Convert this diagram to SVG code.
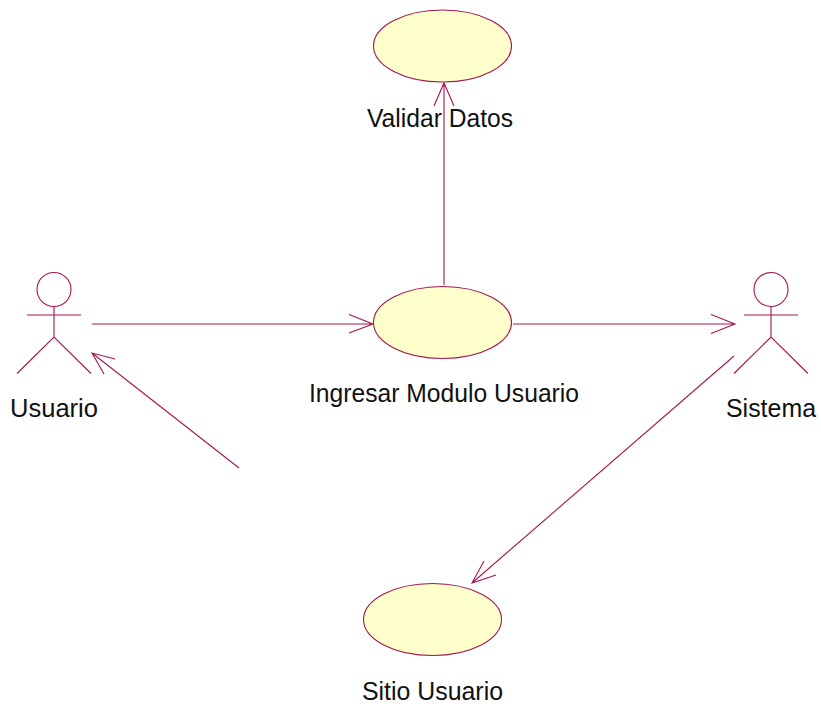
<svg xmlns="http://www.w3.org/2000/svg" width="821" height="706" viewBox="0 0 821 706">
<style>
.l{fill:none;stroke:#a5164f;stroke-width:1.1}
.u{fill:#ffffcc;stroke:#a5164f;stroke-width:1.1}
text{font-family:"Liberation Sans",Arial,sans-serif;font-size:25px;fill:#111;text-anchor:middle}
</style>
<rect width="821" height="706" fill="#fff"/>
<g id="connectors">
<path class="l" d="M92 324H373M349 314.5L373 324L349 333"/>
<path class="l" d="M513 324H735M711 314.5L735 324L711 333.5"/>
<path class="l" d="M444 285V83M434 106L444 83L454 106"/>
<path class="l" d="M239 468L92 353M115 359L92 353L104 374"/>
<path class="l" d="M734 356L472 583M484 561L472 583L496 575"/>
</g>
<g id="validar-datos"><ellipse class="u" cx="442.5" cy="46" rx="69" ry="36"/><text x="440" y="127" textLength="146" lengthAdjust="spacingAndGlyphs">Validar Datos</text></g>
<g id="ingresar-modulo-usuario"><ellipse class="u" cx="442.5" cy="322.5" rx="69" ry="36"/><text x="444" y="402" textLength="270" lengthAdjust="spacingAndGlyphs">Ingresar Modulo Usuario</text></g>
<g id="sitio-usuario"><ellipse class="u" cx="432.5" cy="619.5" rx="69" ry="36"/><text x="432.5" y="700" textLength="141" lengthAdjust="spacingAndGlyphs">Sitio Usuario</text></g>
<g id="usuario"><circle class="l" cx="54" cy="289.5" r="17"/><path class="l" d="M54 306.5V337M27 315H81M17 373.5L54 337L91 373.5"/><text x="54" y="417" textLength="88" lengthAdjust="spacingAndGlyphs">Usuario</text></g>
<g id="sistema"><circle class="l" cx="771" cy="289.5" r="17"/><path class="l" d="M771 306.5V337M744 315H798M734 373.5L771 337L808 373.5"/><text x="771" y="417" textLength="90" lengthAdjust="spacingAndGlyphs">Sistema</text></g>
</svg>
